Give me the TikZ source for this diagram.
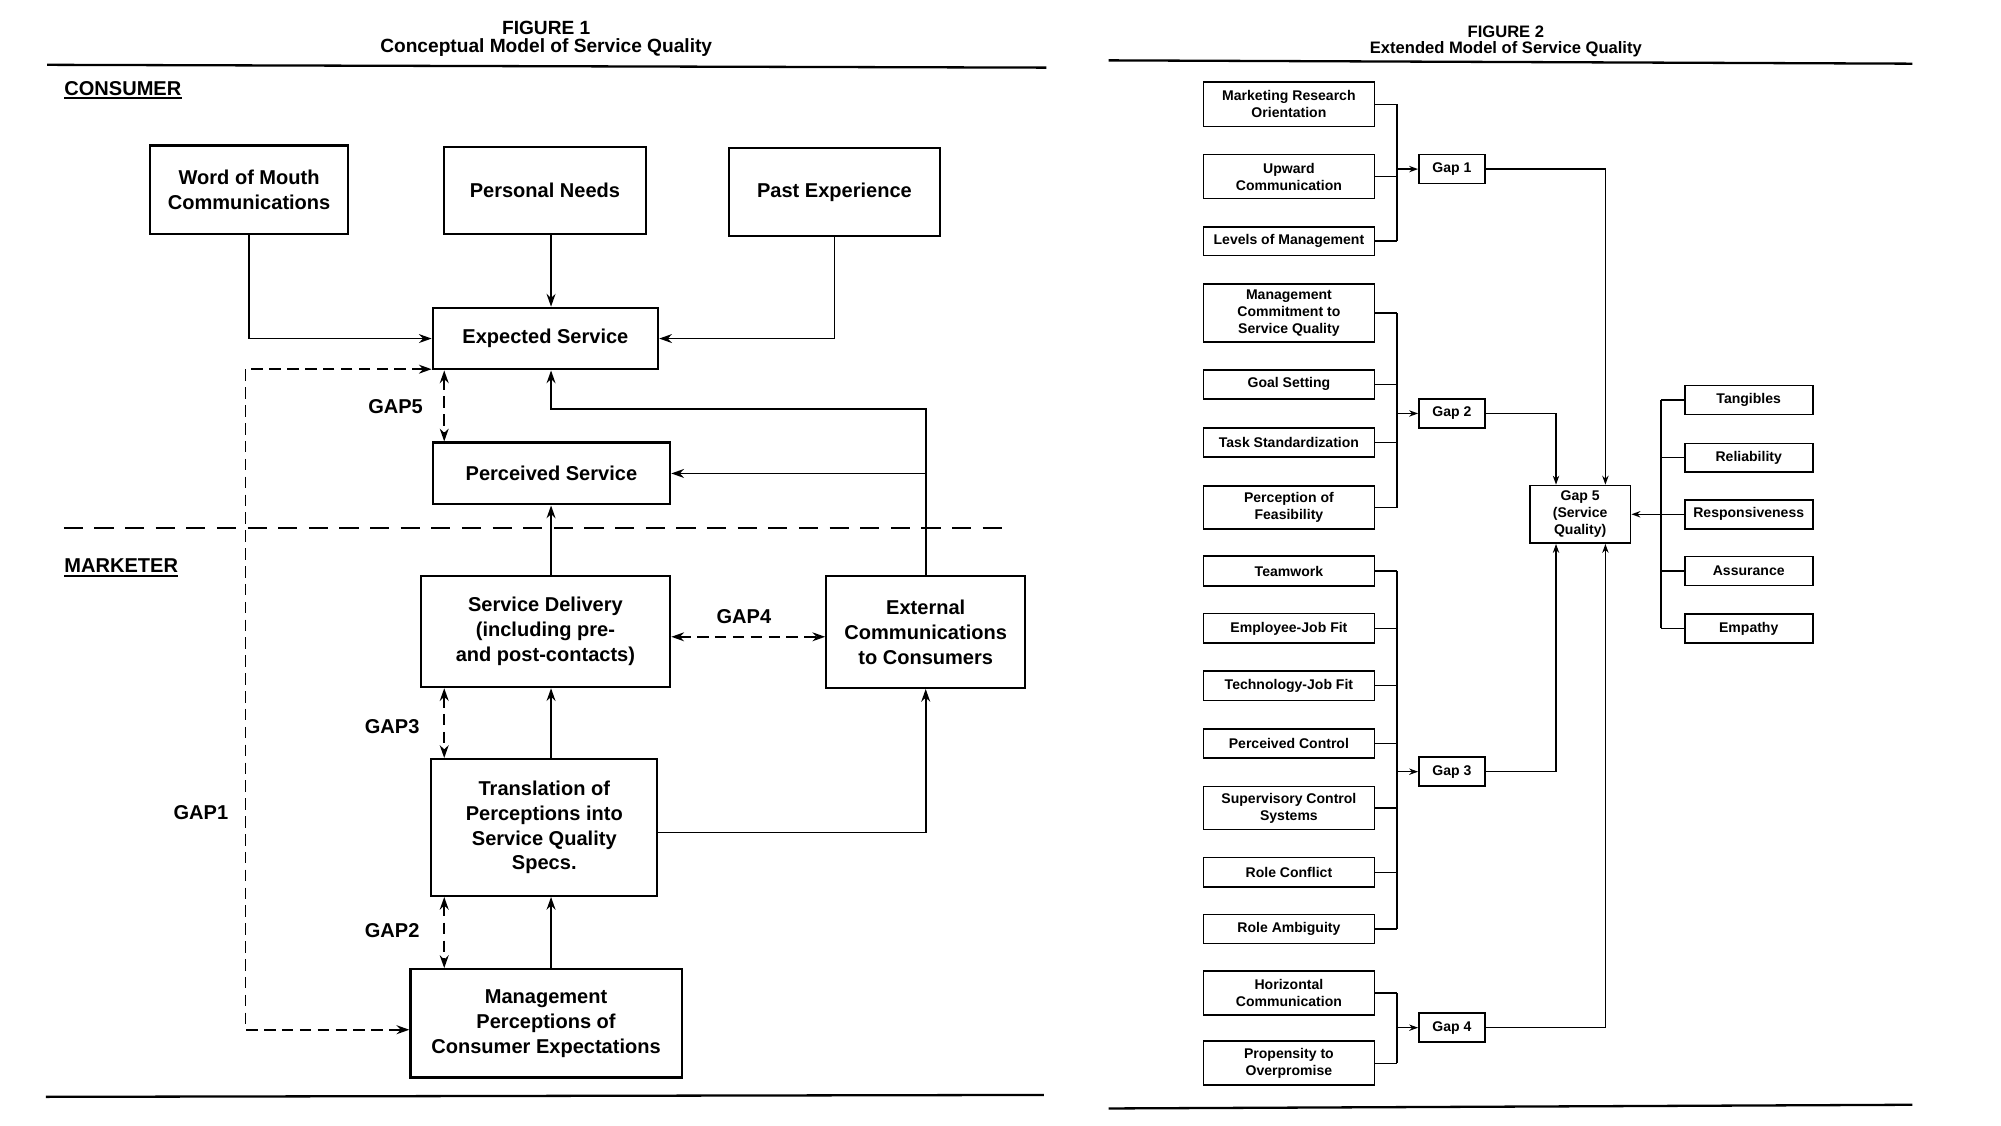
\documentclass[tikz,border=0pt]{standalone}
\usepackage{fontspec}
\setmainfont{Liberation Sans}
\usetikzlibrary{arrows.meta,calc}
\begin{document}
\begin{tikzpicture}[x=1pt,y=-1pt,
  fA/.style={font=\fontsize{15.7}{19.5}\selectfont\bfseries},
  fB/.style={font=\fontsize{11}{13.3}\selectfont\bfseries},
  boxA/.style={draw,line width=1.8pt,inner sep=0pt,align=center,fA},
  boxB/.style={draw,line width=1.3pt,inner sep=0pt,align=center,fB},
  leftB/.style={boxB,minimum width=134pt},
  gapB/.style={boxB,minimum width=51.7pt,minimum height=22.7pt},
  dimB/.style={boxB,minimum width=100.3pt,minimum height=22.6pt},
  rule/.style={line width=1.8pt},
  arrA/.style={line width=1.3pt,-{Stealth[length=10pt,width=7pt]}},
  gapline/.style={line width=1.3pt,dash pattern=on 9pt off 5pt,
     {Stealth[length=10pt,width=7pt]}-{Stealth[length=10pt,width=7pt]}},
  lnB/.style={line width=1pt},
  arrB/.style={line width=1pt,-{Stealth[length=7pt,width=5pt]}},
  lab/.style={fA,inner sep=0pt}
]
\useasboundingbox[fill=white] (0,0) rectangle (1568,882);

% ===================== FIGURE 1 =====================
\node[font=\fontsize{15}{18}\selectfont\bfseries,anchor=base,inner sep=0pt] (t1a) at (428,26.7) {FIGURE 1};
\node[font=\fontsize{15}{18}\selectfont\bfseries,anchor=base,inner sep=0pt] (t1b) at (428,41.2) {Conceptual Model of Service Quality};
\draw[rule] (37,50.8) -- (820,53);
\draw[rule] (36,859.5) -- (818,858);

\node[lab,anchor=west] (cons) at (50.3,69.6) {CONSUMER};
\draw[line width=1.5pt] ([yshift=-2pt]cons.base west) -- ([yshift=-2pt]cons.base east);
\node[lab,anchor=west] (mark) at (50.3,443.6) {MARKETER};
\draw[line width=1.5pt] ([yshift=-2pt]mark.base west) -- ([yshift=-2pt]mark.base east);

\draw[line width=1.8pt,dash pattern=on 15pt off 9pt] (50,414) -- (789.5,414);

\node[boxA,minimum width=155.2pt,minimum height=69.2pt] (wom) at (195.2,148.6) {Word of Mouth\\Communications};
\node[boxA,minimum width=158pt,minimum height=68.5pt] (pn) at (427,149.2) {Personal Needs};
\node[boxA,minimum width=165.3pt,minimum height=68.7pt] (pe) at (653.9,150.4) {Past Experience};
\node[boxA,minimum width=176.5pt,minimum height=48.2pt] (exp) at (427.4,265.3) {Expected Service};
\node[boxA,minimum width=186pt,minimum height=48.4pt] (per) at (432.1,371) {Perceived Service};
\node[boxA,minimum width=195.5pt,minimum height=86.8pt] (sd) at (427.4,495) {Service Delivery\\(including pre-\\and post-contacts)};
\node[boxA,minimum width=155.8pt,minimum height=87.4pt] (ext) at (725.4,495.3) {External\\Communications\\to Consumers};
\node[boxA,minimum width=177pt,minimum height=107.1pt] (tr) at (426.5,648.4) {Translation of\\Perceptions into\\Service Quality\\Specs.};
\node[boxA,minimum width=212.5pt,minimum height=84.8pt] (mp) at (427.9,801.9) {Management\\Perceptions of\\Consumer Expectations};

\node[lab] (gap5) at (310,319) {GAP5};
\node[lab] (gap4) at (582.9,483.2) {GAP4};
\node[lab] (gap3) at (307.3,569.5) {GAP3};
\node[lab] (gap2) at (307.3,728.9) {GAP2};
\node[lab] (gap1) at (157.4,636.7) {GAP1};

\coordinate (sp) at (431.8,0);
\coordinate (ey) at (0,320.4);
\coordinate (gx) at (348.1,0);
\coordinate (g1x) at (192.3,0);

\draw[arrA] (wom.south) |- (exp.west);
\draw[arrA] (pe.south) |- (exp.east);
\draw[arrA] (sp |- pn.south) -- (sp |- exp.north);
\draw[arrA] (ext.north) -- (ext.north |- ey) -- (sp |- ey) -- (sp |- exp.south);
\draw[arrA] (ext.north |- per.east) -- (per.east);
\draw[arrA] (sp |- sd.north) -- (sp |- per.south);
\draw[arrA] (sp |- tr.north) -- (sp |- sd.south);
\draw[arrA] (sp |- mp.north) -- (sp |- tr.south);
\draw[arrA] ([yshift=-4pt]tr.east) -| (ext.south);

\draw[gapline] (gx |- exp.south) -- (gx |- per.north);
\draw[gapline] (gx |- sd.south) -- (gx |- tr.north);
\draw[gapline] (gx |- tr.south) -- (gx |- mp.north);
\coordinate (g4a) at ([yshift=-4pt]sd.east);
\draw[gapline] (g4a) -- (g4a -| ext.west);
\coordinate (ga) at ([yshift=1pt]exp.south west);
\coordinate (gb) at ([yshift=-5pt]mp.west);
\draw[gapline] (ga) -- (ga -| g1x) -- (g1x |- gb) -- (gb);

% ===================== FIGURE 2 =====================
\node[font=\fontsize{13}{16}\selectfont\bfseries,anchor=base,inner sep=0pt] (t2a) at (1180,29) {FIGURE 2};
\node[font=\fontsize{13}{16}\selectfont\bfseries,anchor=base,inner sep=0pt] (t2b) at (1180,42) {Extended Model of Service Quality};
\draw[rule] (868.8,47.3) -- (1498.5,49.9);
\draw[rule] (868.8,868.6) -- (1498.5,865.7);

\node[leftB,minimum height=34.8pt] (b1) at (1010,81.8) {Marketing Research\\Orientation};
\node[leftB,minimum height=34.5pt] (b2) at (1010,138.4) {Upward\\Communication};
\node[leftB,minimum height=22.4pt] (b3) at (1010,188.9) {Levels of Management};
\node[leftB,minimum height=45.2pt] (b4) at (1010,245.3) {Management\\Commitment to\\Service Quality};
\node[leftB,minimum height=22.5pt] (b5) at (1010,301.2) {Goal Setting};
\node[leftB,minimum height=22.7pt] (b6) at (1010,346.6) {Task Standardization};
\node[leftB,minimum height=33.9pt] (b7) at (1010,397.7) {Perception of\\Feasibility};
\node[leftB,minimum height=23.2pt] (b8) at (1010,447.5) {Teamwork};
\node[leftB,minimum height=23.1pt] (b9) at (1010,492.4) {Employee-Job Fit};
\node[leftB,minimum height=23.2pt] (b10) at (1010,537.2) {Technology-Job Fit};
\node[leftB,minimum height=22.5pt] (b11) at (1010,582.6) {Perceived Control};
\node[leftB,minimum height=33.7pt] (b12) at (1010,633.1) {Supervisory Control\\Systems};
\node[leftB,minimum height=23pt] (b13) at (1010,683.5) {Role Conflict};
\node[leftB,minimum height=22.8pt] (b14) at (1010,727.9) {Role Ambiguity};
\node[leftB,minimum height=34.2pt] (b15) at (1010,778.1) {Horizontal\\Communication};
\node[leftB,minimum height=34.3pt] (b16) at (1010,833.1) {Propensity to\\Overpromise};

\node[gapB] (g1) at (1137.7,132.5) {Gap 1};
\node[gapB] (g2) at (1137.7,324) {Gap 2};
\node[gapB] (g3) at (1137.7,604.7) {Gap 3};
\node[gapB] (g4) at (1137.7,805.3) {Gap 4};
\node[boxB,minimum width=79.1pt,minimum height=45.2pt] (g5) at (1238.2,403) {Gap 5\\(Service\\Quality)};

\node[dimB] (d1) at (1370.3,313.4) {Tangibles};
\node[dimB] (d2) at (1370.3,358.7) {Reliability};
\node[dimB] (d3) at (1370.3,403) {Responsiveness};
\node[dimB] (d4) at (1370.3,447.5) {Assurance};
\node[dimB] (d5) at (1370.3,492.4) {Empathy};

\coordinate (bx) at (1094.7,0);
\coordinate (cA) at (1219.3,0);
\coordinate (cB) at (1258,0);
\coordinate (rx) at (1301.6,0);

\foreach \n in {b1,b2,b3,b4,b5,b6,b7,b8,b9,b10,b11,b12,b13,b14,b15,b16}
  \draw[lnB] (\n.east) -- (\n.east -| bx);
\draw[lnB] (bx |- b1.east) -- (bx |- b3.east);
\draw[lnB] (bx |- b4.east) -- (bx |- b7.east);
\draw[lnB] (bx |- b8.east) -- (bx |- b14.east);
\draw[lnB] (bx |- b15.east) -- (bx |- b16.east);
\draw[arrB] (bx |- g1.west) -- (g1.west);
\draw[arrB] (bx |- g2.west) -- (g2.west);
\draw[arrB] (bx |- g3.west) -- (g3.west);
\draw[arrB] (bx |- g4.west) -- (g4.west);

\draw[arrB] (g1.east) -| (cB |- g5.north);
\draw[arrB] (g2.east) -| (cA |- g5.north);
\draw[arrB] (g3.east) -| (cA |- g5.south);
\draw[arrB] (g4.east) -| (cB |- g5.south);

\foreach \n in {d1,d2,d3,d4,d5}
  \draw[lnB] (\n.west) -- (\n.west -| rx);
\draw[lnB] (rx |- d1.west) -- (rx |- d5.west);
\draw[arrB] (rx |- g5.east) -- (g5.east);
\end{tikzpicture}
\end{document}
